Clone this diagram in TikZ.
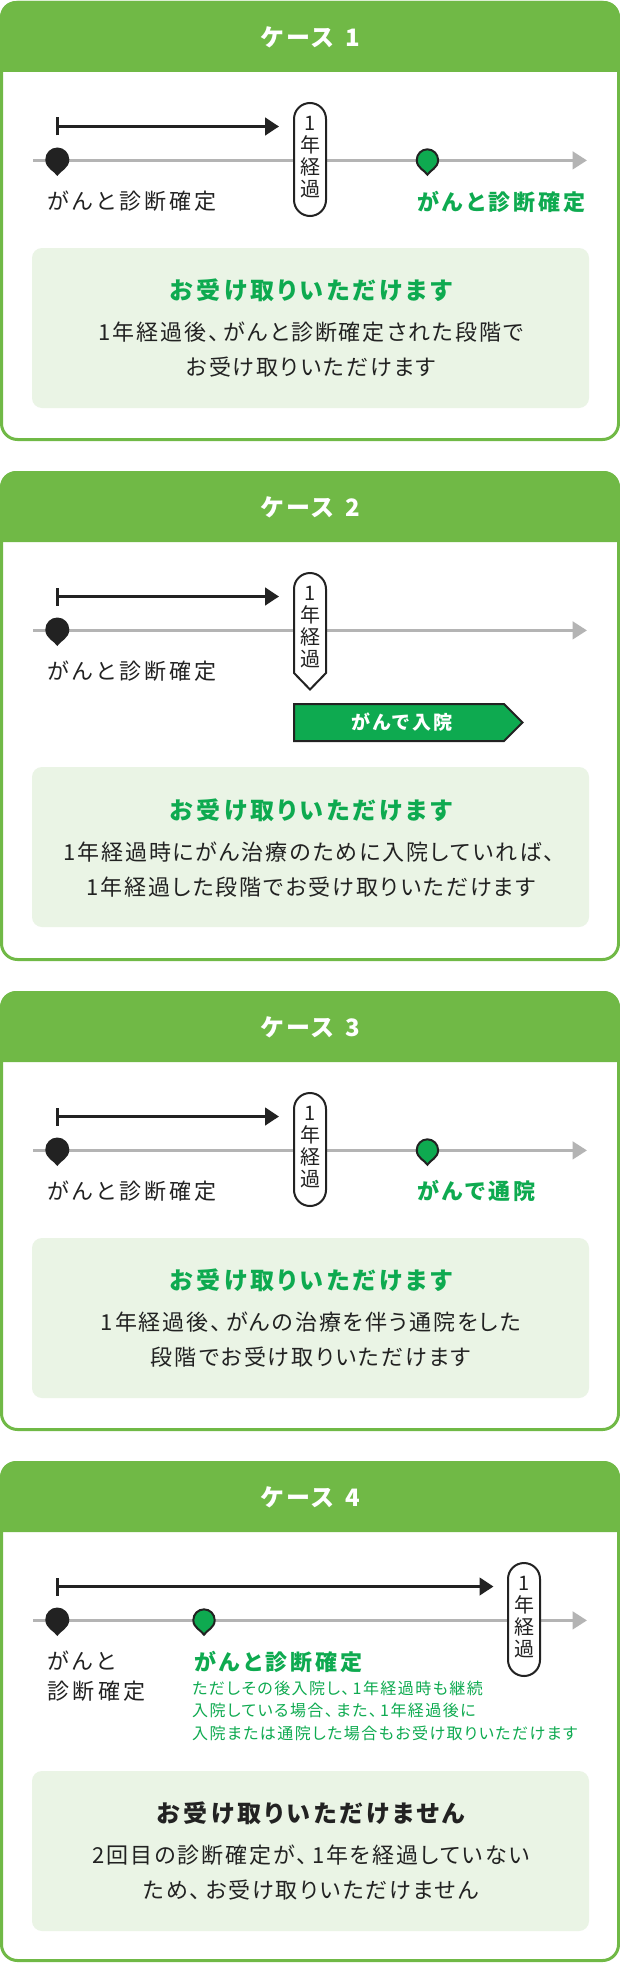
\documentclass[tikz,border=0pt]{standalone}
\usepackage{fontspec}
\setmainfont{Noto Sans CJK JP}[RawFeature=+palt]
\usetikzlibrary{arrows.meta}
\definecolor{headgreen}{HTML}{70B946}
\definecolor{markgreen}{HTML}{0EAA50}
\definecolor{boxgreen}{HTML}{EAF4E5}
\definecolor{linegray}{HTML}{B4B4B4}
\definecolor{inkdark}{HTML}{222222}
\newcommand{\tk}{、\kern.2em}
\tikzset{
  cardframe/.style={draw=headgreen,line width=3pt,fill=white,rounded corners=16pt},
  headtext/.style={text=white,inner sep=0pt,font=\bfseries\fontsize{24}{28}\selectfont\addfontfeature{LetterSpace=13}},
  timeline/.style={draw=linegray,line width=3.3pt,-{Triangle[length=14.5pt,width=17.5pt]}},
  spanline/.style={draw=inkdark,line width=3pt,{Bar[width=18pt,line width=3pt]}-{Triangle[length=14pt,width=17.5pt]}},
  yearpill/.style={draw=inkdark,line width=2pt,fill=white,rounded corners=16pt,minimum width=32pt,minimum height=113pt,inner sep=0pt},
  yeartext/.style={inner sep=0pt,align=center,text=inkdark,font=\fontsize{20}{22}\selectfont},
  datelabel/.style={anchor=west,inner sep=0pt,text=inkdark,align=left,font=\fontsize{22}{30}\selectfont\addfontfeature{LetterSpace=15}},
  greenlabel/.style={anchor=west,inner sep=0pt,text=markgreen,font=\bfseries\fontsize{22}{30}\selectfont\addfontfeature{LetterSpace=15}},
  staytext/.style={inner sep=0pt,text=white,font=\bfseries\fontsize{19}{22}\selectfont\addfontfeature{LetterSpace=13}},
  notetext/.style={anchor=north west,inner sep=0pt,text=markgreen,align=left,font=\fontsize{16}{22.5}\selectfont\addfontfeature{LetterSpace=9}},
  infobox/.style={fill=boxgreen,rounded corners=10pt,minimum width=557pt,minimum height=160pt},
  infohead/.style={inner sep=0pt,text=markgreen,font=\bfseries\fontsize{24}{28}\selectfont\addfontfeature{LetterSpace=13.5}},
  infotext/.style={inner sep=0pt,align=center,text=inkdark,font=\fontsize{22}{35}\selectfont\addfontfeature{LetterSpace=8.8}},
  mappin/.pic={
    \path[pic actions] (0,16.5) .. controls (-3,11.5) and (-12,9) .. (-12,0)
      .. controls (-12,-6.6) and (-6.6,-12) .. (0,-12)
      .. controls (6.6,-12) and (12,-6.6) .. (12,0)
      .. controls (12,9) and (3,11.5) .. (0,16.5) -- cycle;
  },
  darkpin/.style={fill=inkdark},
  greenpin/.style={draw=inkdark,fill=markgreen,line width=2pt,scale=.89}
}
\begin{document}
\begin{tikzpicture}[x=1pt,y=-1pt]
\useasboundingbox (0,0) rectangle (620,1964);

% frame, head, time line and first date of every case
\foreach \num/\ofs/\hgt/\boxy in {1/0/440/328,2/470/490/377,3/990/440/328,4/1460/501/391} {
  \begin{scope}[shift={(0,\ofs)}]
    \draw[cardframe] (1.5,2.5) rectangle (618.5,\hgt-0.5);
    \path[fill=headgreen] (0,72) [rounded corners=16pt] -- (0,1) -- (620,1) [sharp corners] -- (620,72) -- cycle;
    \node[headtext] (head\num) at (310.5,37.5) {ケース \kern3pt\num};
    \coordinate (lineS\num) at (33,160.4);
    \coordinate (lineE\num) at (587,160.4);
    \draw[timeline] (lineS\num) -- (lineE\num);
    \pic[darkpin] at (57.3,159.5) {mappin};
    \node[infobox] (info\num) at (310.5,\boxy) {};
  \end{scope}
}

% case 1
\coordinate (spanS1) at (55.5,126.5);
\coordinate (spanE1) at (279,126.5);
\draw[spanline] (spanS1) -- (spanE1);
\node[yearpill] (pill1) at (310,159.5) {};
\node[yeartext] (year1) at (310,157) {1\\年\\経\\過};
\pic[greenpin] at (427.4,160) {mappin};
\node[datelabel] (date1) at (47.5,201.5) {がんと診断確定};
\node[greenlabel] (event1) at (417,201.5) {がんと診断確定};
\node[infohead] (title1) at (311,290) {お受け取りいただけます};
\node[infotext] (body1) at (311,349.5) {1年経過後\tk がんと診断確定された段階で\\お受け取りいただけます};

% case 2
\coordinate (spanS2) at (55.5,596.5);
\coordinate (spanE2) at (279,596.5);
\draw[spanline] (spanS2) -- (spanE2);
\draw[draw=inkdark,line width=2pt,fill=white] (294,673) [rounded corners=16pt] -- (294,573) -- (326,573) [sharp corners] -- (326,673) -- (310,689.5) -- cycle;
\node[yeartext] (year2) at (310,627) {1\\年\\経\\過};
\draw[draw=inkdark,line width=2pt,fill=markgreen] (294,704) -- (504,704) -- (522.5,722.5) -- (504,741) -- (294,741) -- cycle;
\node[staytext] (stay2) at (402,722) {がんで入院};
\node[datelabel] (date2) at (47.5,671.5) {がんと診断確定};
\node[infohead] (title2) at (311,810) {お受け取りいただけます};
\node[infotext] (body2) at (311,869.5) {1年経過時にがん治療のために入院していれば\tk \\1年経過した段階でお受け取りいただけます};

% case 3
\coordinate (spanS3) at (55.5,1116.5);
\coordinate (spanE3) at (279,1116.5);
\draw[spanline] (spanS3) -- (spanE3);
\node[yearpill] (pill3) at (310,1149.5) {};
\node[yeartext] (year3) at (310,1147) {1\\年\\経\\過};
\pic[greenpin] at (427.4,1150) {mappin};
\node[datelabel] (date3) at (47.5,1191) {がんと診断確定};
\node[greenlabel] (event3) at (417,1191) {がんで通院};
\node[infohead] (title3) at (311,1280) {お受け取りいただけます};
\node[infotext] (body3) at (311,1339.5) {1年経過後\tk がんの治療を伴う通院をした\\段階でお受け取りいただけます};

% case 4
\coordinate (spanS4) at (55.5,1586.5);
\coordinate (spanE4) at (493.5,1586.5);
\draw[spanline] (spanS4) -- (spanE4);
\node[yearpill] (pill4) at (524,1619.5) {};
\node[yeartext] (year4) at (524,1617) {1\\年\\経\\過};
\pic[greenpin] at (204,1620) {mappin};
\node[datelabel] (date4) at (47.5,1676.5) {がんと\\診断確定};
\node[greenlabel] (event4) at (194,1661.5) {がんと診断確定};
\node[notetext] (note4) at (192,1680.5) {ただしその後入院し\tk 1年経過時も継続\\入院している場合\tk また\tk 1年経過後に\\入院または通院した場合もお受け取りいただけます};
\node[infohead,text=inkdark] (title4) at (311,1813) {お受け取りいただけません};
\node[infotext] (body4) at (311,1872.5) {2回目の診断確定が\tk 1年を経過していない\\ため\tk お受け取りいただけません};
\end{tikzpicture}
\end{document}
